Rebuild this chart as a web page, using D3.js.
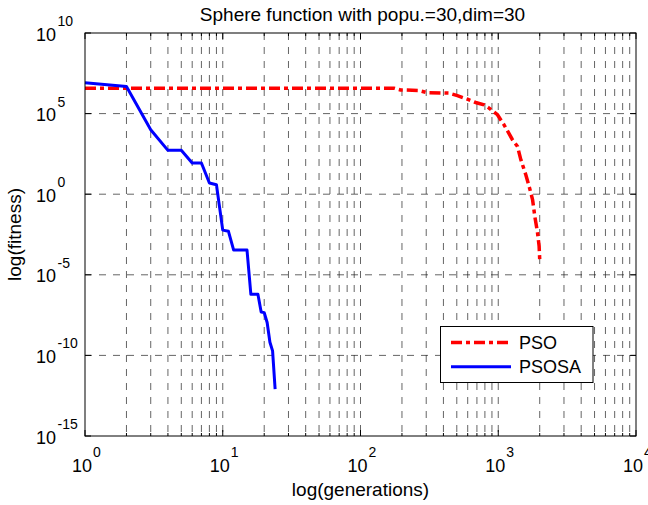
<!DOCTYPE html>
<html><head><meta charset="utf-8">
<script src="https://cdn.jsdelivr.net/npm/d3@7"></script>
<style>body{margin:0;background:#fff} text{font-family:"Liberation Sans",Arial,Helvetica,sans-serif;fill:#000}</style>
</head><body><svg id="c" width="648" height="505"></svg>
<script>
// ---- data ----
const psoGen = [1, 175, 195, 266, 305, 439, 505, 597, 686, 788, 858, 987, 1102, 1268, 1380, 1458, 1585, 1675, 1774, 1842, 1928, 1980, 2000];
const psoFit = [3.8e6, 3.8e6, 2.95e6, 2.7e6, 2.0e6, 1.86e6, 1.3e6, 7.9e5, 4.9e5, 3.5e5, 2.2e5, 8.5e4, 2.0e4, 2.4e3, 9.1e2, 1.4e2, 16, 3.1, 0.47, 0.043, 4.1e-3, 6.0e-4, 8.9e-5];
const psosaGen = [1, 2, 3, 4, 5, 6, 7, 8, 9, 10, 11, 12, 13, 14, 15, 16, 17, 18, 19, 20, 21, 22, 23, 24];
const psosaFit = [8.3e6, 4.8e6, 1.0e4, 525, 525, 87, 87, 5.0, 3.9, 5.9e-3, 5.0e-3, 3.4e-4, 3.4e-4, 3.4e-4, 3.4e-4, 6.2e-7, 6.2e-7, 6.2e-7, 4.9e-8, 4.5e-8, 1.1e-8, 6.6e-10, 1.9e-10, 8.1e-13];
const xTickExps = [0, 1, 2, 3, 4];
const yTickExps = [10, 5, 0, -5, -10, -15];
const seriesNames = ["PSO", "PSOSA"];
const titleText = "Sphere function with popu.=30,dim=30";
const xLabelText = "log(generations)";
const yLabelText = "log(fitness)";

// ---- layout ----
const W = 648, H = 505;
const m = {l: 85, r: 636, t: 33, b: 436};
const svg = d3.select("#c");
svg.append("rect").attr("width", W).attr("height", H).attr("fill", "#fff");

const x = d3.scaleLog().domain([1, 1e4]).range([m.l, m.r]);
const y = d3.scaleLog().domain([1e-15, 1e10]).range([m.b, m.t]);

const xMajor = xTickExps.map(e => Math.pow(10, e));
const xMinor = [];
for (let d = 0; d < 4; d++) for (let k = 2; k <= 9; k++) xMinor.push(k * Math.pow(10, d));
const yMajor = yTickExps.map(e => Math.pow(10, e));

const grid = svg.append("g").attr("stroke", "#222").attr("stroke-width", 0.7).attr("stroke-dasharray", "7,7").attr("fill", "none");
xMajor.concat(xMinor).filter(v => v > 1 && v < 1e4).forEach(v => {
  grid.append("line").attr("x1", x(v)).attr("x2", x(v)).attr("y1", m.t).attr("y2", m.b);
});
yMajor.filter(v => v > 1e-15 && v < 1e10).forEach(v => {
  grid.append("line").attr("x1", m.l).attr("x2", m.r).attr("y1", y(v)).attr("y2", y(v));
});

// ticks (inside, on all four sides)
const tk = svg.append("g").attr("stroke", "#000").attr("stroke-width", 1);
xMajor.forEach(v => {
  tk.append("line").attr("x1", x(v)).attr("x2", x(v)).attr("y1", m.b).attr("y2", m.b - 6);
  tk.append("line").attr("x1", x(v)).attr("x2", x(v)).attr("y1", m.t).attr("y2", m.t + 6);
});
xMinor.forEach(v => {
  tk.append("line").attr("x1", x(v)).attr("x2", x(v)).attr("y1", m.b).attr("y2", m.b - 3);
  tk.append("line").attr("x1", x(v)).attr("x2", x(v)).attr("y1", m.t).attr("y2", m.t + 3);
});
yMajor.forEach(v => {
  tk.append("line").attr("x1", m.l).attr("x2", m.l + 6).attr("y1", y(v)).attr("y2", y(v));
  tk.append("line").attr("x1", m.r).attr("x2", m.r - 6).attr("y1", y(v)).attr("y2", y(v));
});

// data lines
const line = d3.line().x(d => x(d[0])).y(d => y(d[1]));
const psoData = psoGen.map((g, i) => [g, psoFit[i]]);
const psosaData = psosaGen.map((g, i) => [g, psosaFit[i]]);
svg.append("path").datum(psoData).attr("d", line).attr("fill", "none")
  .attr("stroke", "#ff0000").attr("stroke-width", 3.5).attr("stroke-dasharray", "11,4,4,4");
svg.append("path").datum(psosaData).attr("d", line).attr("fill", "none")
  .attr("stroke", "#0000ff").attr("stroke-width", 3).attr("stroke-linejoin", "round");

// axes box
svg.append("rect").attr("x", m.l).attr("y", m.t).attr("width", m.r - m.l).attr("height", m.b - m.t)
  .attr("fill", "none").attr("stroke", "#000").attr("stroke-width", 1);

// tick labels
const fs = 18, fsExp = 14, fsLab = 19;
xTickExps.forEach(e => {
  const px = x(Math.pow(10, e));
  svg.append("text").attr("x", px + 7).attr("y", 471.5).attr("text-anchor", "end").attr("font-size", fs).text("10");
  svg.append("text").attr("x", px + 8).attr("y", 457).attr("font-size", fsExp).text(String(e));
});
yTickExps.forEach(e => {
  const py = y(Math.pow(10, e));
  svg.append("text").attr("x", 56).attr("y", py + 7.5).attr("text-anchor", "end").attr("font-size", fs).text("10");
  svg.append("text").attr("x", 57.5).attr("y", py - 7).attr("font-size", fsExp).text(String(e));
});

// title & axis labels
svg.append("text").attr("x", (m.l + m.r) / 2 + 2).attr("y", 20.5).attr("text-anchor", "middle").attr("font-size", fsLab).text(titleText);
svg.append("text").attr("x", (m.l + m.r) / 2).attr("y", 496).attr("text-anchor", "middle").attr("font-size", fsLab).text(xLabelText);
svg.append("text").attr("transform", `translate(21,${(m.t + m.b) / 2}) rotate(-90)`).attr("text-anchor", "middle").attr("font-size", fsLab).text(yLabelText);

// legend
const lg = svg.append("g");
lg.append("rect").attr("x", 440.5).attr("y", 326.5).attr("width", 152.5).attr("height", 56)
  .attr("fill", "#fff").attr("stroke", "#000").attr("stroke-width", 1);
const legendStyles = [
  {color: "#ff0000", dash: "11,4,4,4", w: 3.5},
  {color: "#0000ff", dash: null, w: 3}
];
seriesNames.forEach((name, i) => {
  const ly = 342.5 + i * 24.2;
  const l = lg.append("line").attr("x1", 451).attr("x2", 511).attr("y1", ly).attr("y2", ly)
    .attr("stroke", legendStyles[i].color).attr("stroke-width", legendStyles[i].w);
  if (legendStyles[i].dash) l.attr("stroke-dasharray", legendStyles[i].dash);
  lg.append("text").attr("x", 519).attr("y", ly + 6.3).attr("font-size", fs).text(name);
});
</script></body></html>
